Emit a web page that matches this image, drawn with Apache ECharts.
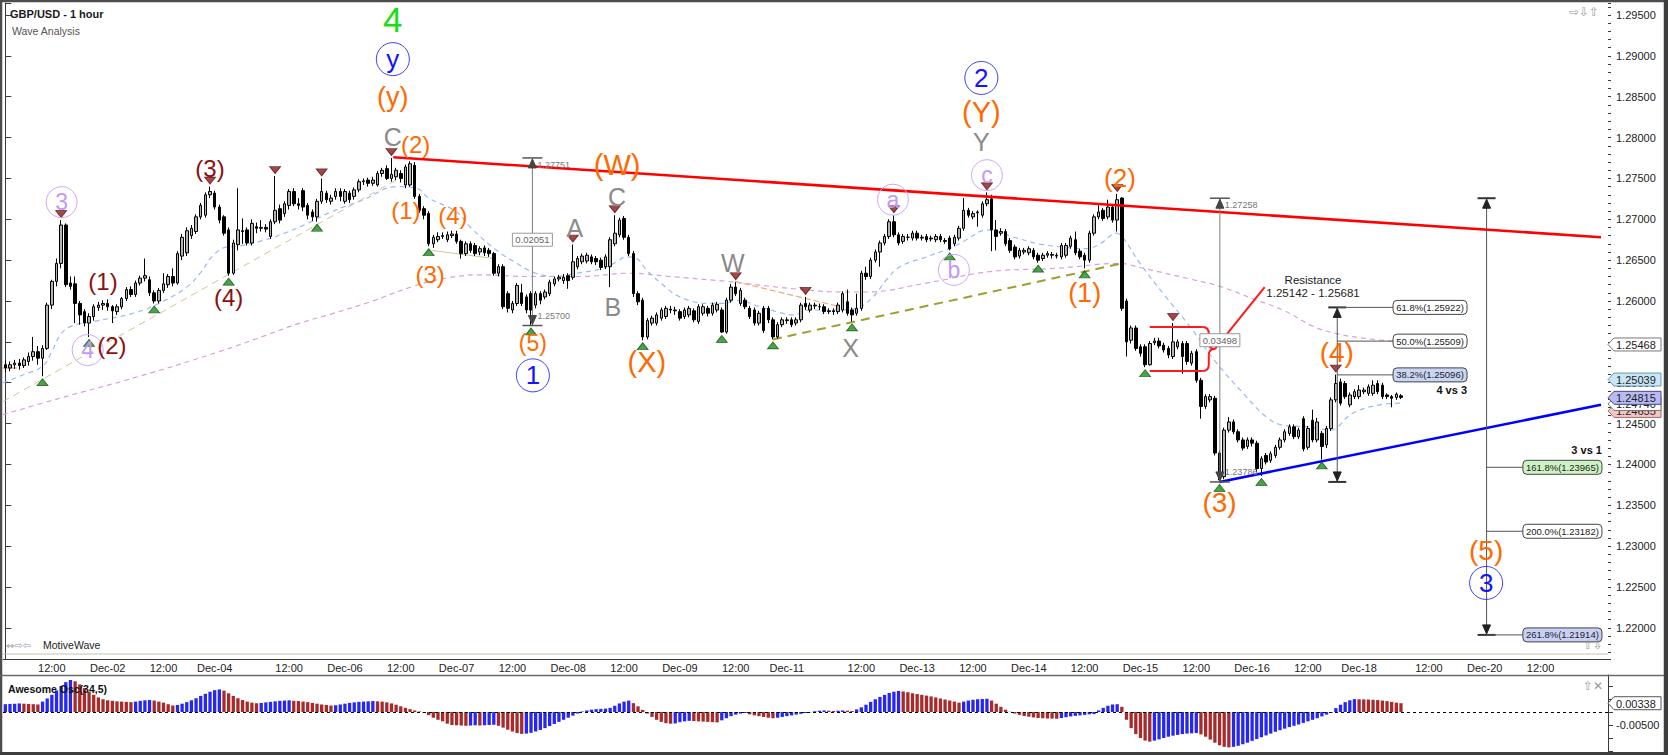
<!DOCTYPE html>
<html><head><meta charset="utf-8">
<script src="https://cdn.jsdelivr.net/npm/echarts@6/dist/echarts.min.js"></script>
<style>html,body{margin:0;padding:0;background:#fff}#c{width:1668px;height:755px}</style>
</head><body><div id="c"></div>
<script>
// ---------- DATA ----------
const N_SLOTS = 345; // hourly slots on the time axis (incl. future space)
const timeLabels = {10:'12:00',22:'Dec-02',34:'12:00',45:'Dec-04',61:'12:00',73:'Dec-06',85:'12:00',97:'Dec-07',109:'12:00',121:'Dec-08',133:'12:00',145:'Dec-09',157:'12:00',168:'Dec-11',184:'12:00',196:'Dec-13',208:'12:00',220:'Dec-14',232:'12:00',244:'Dec-15',256:'12:00',268:'Dec-16',280:'12:00',291:'Dec-18',306:'12:00',318:'Dec-20',330:'12:00',342:' '};

// candles: [open, close, low, high]
const candles = [
[1.2522,1.2518,1.2513,1.2527],[1.2518,1.2522,1.2514,1.2526],[1.2522,1.2524,1.2517,1.2528],[1.2524,1.2521,1.2516,1.2529],[1.2521,1.2528,1.2518,1.2531],
[1.2526,1.2532,1.2521,1.2537],[1.2532,1.2538,1.2527,1.2556],[1.2538,1.2530,1.2522,1.2545],[1.2530,1.2542,1.2508,1.2546],[1.2542,1.2595,1.2540,1.2598],
[1.2595,1.2624,1.2590,1.2626],[1.2624,1.2646,1.2618,1.2652],[1.2646,1.2693,1.2640,1.2699],[1.2693,1.2620,1.2617,1.2695],[1.2622,1.2618,1.2614,1.2630],
[1.2621,1.2597,1.2573,1.2630],[1.2597,1.2583,1.2571,1.2600],[1.2587,1.2573,1.2569,1.2590],[1.2573,1.2581,1.2556,1.2585],[1.2581,1.2593,1.2576,1.2596],
[1.2592,1.2595,1.2588,1.2599],[1.2595,1.2597,1.2589,1.2601],[1.2597,1.2593,1.2588,1.2602],[1.2593,1.2588,1.2573,1.2595],[1.2587,1.2593,1.2583,1.2596],
[1.2593,1.2603,1.2590,1.2605],[1.2603,1.2614,1.2600,1.2617],[1.2614,1.2608,1.2605,1.2618],[1.2608,1.2622,1.2605,1.2625],[1.2622,1.2628,1.2619,1.2631],
[1.2628,1.2631,1.2624,1.2652],[1.2626,1.2610,1.2606,1.2630],[1.2610,1.2600,1.2597,1.2613],[1.2600,1.2613,1.2597,1.2616],[1.2613,1.2621,1.2610,1.2634],
[1.2620,1.2630,1.2616,1.2633],[1.2630,1.2622,1.2618,1.2640],[1.2622,1.2658,1.2620,1.2661],[1.2655,1.2678,1.2650,1.2682],[1.2659,1.2686,1.2655,1.2690],
[1.2680,1.2689,1.2676,1.2693],[1.2685,1.2703,1.2682,1.2706],[1.2703,1.2717,1.2700,1.2720],[1.2705,1.2730,1.2702,1.2733],[1.2730,1.2734,1.2726,1.2740],
[1.2732,1.2715,1.2712,1.2735],[1.2715,1.2699,1.2695,1.2718],[1.2703,1.2683,1.2680,1.2705],[1.2687,1.2634,1.2631,1.2690],[1.2634,1.2671,1.2632,1.2675],
[1.2669,1.2687,1.2662,1.2738],[1.2686,1.2685,1.2670,1.2701],[1.2687,1.2671,1.2668,1.2690],[1.2671,1.2695,1.2668,1.2700],[1.2691,1.2689,1.2683,1.2696],
[1.2689,1.2690,1.2685,1.2699],[1.2690,1.2688,1.2684,1.2694],[1.2679,1.2697,1.2676,1.2700],[1.2697,1.2711,1.2694,1.2753],[1.2713,1.2699,1.2695,1.2718],
[1.2707,1.2719,1.2703,1.2722],[1.2717,1.2734,1.2712,1.2737],[1.2734,1.2719,1.2716,1.2738],[1.2719,1.2717,1.2712,1.2726],[1.2735,1.2715,1.2710,1.2738],
[1.2717,1.2705,1.2700,1.2720],[1.2709,1.2703,1.2698,1.2712],[1.2703,1.2722,1.2697,1.2725],[1.2722,1.2734,1.2719,1.2750],[1.2732,1.2724,1.2720,1.2735],
[1.2722,1.2726,1.2718,1.2730],[1.2728,1.2734,1.2724,1.2738],[1.2734,1.2728,1.2722,1.2738],[1.2722,1.2734,1.2719,1.2737],[1.2732,1.2724,1.2720,1.2735],
[1.2728,1.2736,1.2724,1.2739],[1.2736,1.2746,1.2733,1.2749],[1.2746,1.2747,1.2742,1.2750],[1.2748,1.2744,1.2740,1.2751],[1.2744,1.2748,1.2741,1.2752],
[1.2742,1.2756,1.2740,1.2759],[1.2756,1.2760,1.2752,1.2763],[1.2762,1.2750,1.2748,1.2766],[1.2750,1.2755,1.2746,1.2775],[1.2752,1.2760,1.2748,1.2763],
[1.2756,1.2750,1.2745,1.2760],[1.2742,1.2764,1.2738,1.2767],[1.2742,1.2768,1.2740,1.2771],[1.2766,1.2728,1.2725,1.2770],[1.2728,1.2711,1.2708,1.2731],
[1.2713,1.2705,1.2700,1.2716],[1.2707,1.2670,1.2667,1.2710],[1.2670,1.2678,1.2665,1.2681],[1.2675,1.2679,1.2672,1.2684],[1.2679,1.2680,1.2676,1.2684],
[1.2675,1.2681,1.2672,1.2685],[1.2680,1.2682,1.2677,1.2686],[1.2682,1.2673,1.2670,1.2686],[1.2673,1.2658,1.2652,1.2675],[1.2658,1.2670,1.2655,1.2673],
[1.2670,1.2662,1.2659,1.2673],[1.2668,1.2658,1.2655,1.2671],[1.2660,1.2664,1.2656,1.2667],[1.2665,1.2659,1.2655,1.2668],[1.2662,1.2658,1.2654,1.2665],
[1.2658,1.2634,1.2631,1.2660],[1.2634,1.2642,1.2630,1.2645],[1.2642,1.2593,1.2590,1.2645],[1.2609,1.2591,1.2586,1.2612],[1.2589,1.2597,1.2585,1.2600],
[1.2597,1.2619,1.2594,1.2622],[1.2610,1.2597,1.2594,1.2621],[1.2605,1.2589,1.2585,1.2608],[1.2609,1.2589,1.2570,1.2612],[1.2595,1.2609,1.2591,1.2612],
[1.2609,1.2601,1.2596,1.2612],[1.2605,1.2611,1.2602,1.2614],[1.2609,1.2623,1.2606,1.2626],[1.2621,1.2627,1.2618,1.2630],[1.2627,1.2629,1.2624,1.2632],
[1.2625,1.2629,1.2621,1.2633],[1.2631,1.2625,1.2615,1.2634],[1.2629,1.2648,1.2626,1.2669],[1.2642,1.2652,1.2639,1.2655],[1.2648,1.2655,1.2645,1.2658],
[1.2649,1.2656,1.2646,1.2659],[1.2654,1.2648,1.2645,1.2657],[1.2652,1.2648,1.2644,1.2655],[1.2650,1.2641,1.2638,1.2653],[1.2642,1.2654,1.2639,1.2657],
[1.2642,1.2675,1.2617,1.2678],[1.2670,1.2683,1.2667,1.2705],[1.2681,1.2699,1.2678,1.2702],[1.2701,1.2678,1.2675,1.2704],[1.2678,1.2658,1.2655,1.2681],
[1.2658,1.2609,1.2605,1.2661],[1.2609,1.2599,1.2595,1.2612],[1.2601,1.2556,1.2552,1.2604],[1.2556,1.2576,1.2553,1.2579],[1.2573,1.2579,1.2570,1.2582],
[1.2573,1.2583,1.2570,1.2586],[1.2579,1.2589,1.2576,1.2592],[1.2581,1.2591,1.2578,1.2594],[1.2590,1.2589,1.2585,1.2594],[1.2588,1.2589,1.2583,1.2593],
[1.2587,1.2579,1.2576,1.2590],[1.2581,1.2589,1.2578,1.2592],[1.2583,1.2591,1.2580,1.2594],[1.2588,1.2577,1.2574,1.2591],[1.2575,1.2593,1.2572,1.2596],
[1.2585,1.2593,1.2582,1.2596],[1.2591,1.2585,1.2581,1.2594],[1.2585,1.2595,1.2582,1.2598],[1.2589,1.2596,1.2586,1.2599],[1.2589,1.2562,1.2561,1.2592],
[1.2562,1.2601,1.2560,1.2604],[1.2601,1.2617,1.2598,1.2621],[1.2617,1.2609,1.2606,1.2623],[1.2597,1.2613,1.2594,1.2616],[1.2601,1.2593,1.2590,1.2604],
[1.2591,1.2581,1.2578,1.2594],[1.2589,1.2573,1.2570,1.2592],[1.2573,1.2585,1.2570,1.2588],[1.2591,1.2564,1.2561,1.2594],[1.2591,1.2577,1.2573,1.2594],
[1.2577,1.2556,1.2553,1.2580],[1.2556,1.2571,1.2554,1.2574],[1.2571,1.2577,1.2568,1.2580],[1.2576,1.2577,1.2572,1.2580],[1.2577,1.2571,1.2568,1.2580],
[1.2573,1.2577,1.2570,1.2580],[1.2577,1.2595,1.2574,1.2598],[1.2597,1.2593,1.2589,1.2605],[1.2589,1.2595,1.2586,1.2598],[1.2594,1.2595,1.2590,1.2598],
[1.2593,1.2593,1.2589,1.2597],[1.2593,1.2587,1.2584,1.2596],[1.2587,1.2588,1.2584,1.2591],[1.2588,1.2587,1.2583,1.2591],[1.2587,1.2595,1.2584,1.2598],
[1.2589,1.2609,1.2586,1.2612],[1.2599,1.2585,1.2582,1.2614],[1.2589,1.2583,1.2575,1.2592],[1.2585,1.2591,1.2582,1.2609],[1.2591,1.2634,1.2588,1.2637],
[1.2634,1.2630,1.2626,1.2642],[1.2630,1.2650,1.2627,1.2653],[1.2650,1.2660,1.2647,1.2663],[1.2660,1.2671,1.2642,1.2674],[1.2671,1.2679,1.2668,1.2682],
[1.2679,1.2697,1.2676,1.2700],[1.2697,1.2681,1.2678,1.2705],[1.2681,1.2671,1.2668,1.2684],[1.2673,1.2679,1.2670,1.2682],[1.2678,1.2678,1.2674,1.2682],
[1.2677,1.2683,1.2674,1.2686],[1.2683,1.2677,1.2674,1.2686],[1.2677,1.2678,1.2674,1.2681],[1.2679,1.2675,1.2672,1.2682],[1.2676,1.2677,1.2673,1.2680],
[1.2675,1.2679,1.2672,1.2682],[1.2679,1.2675,1.2672,1.2682],[1.2674,1.2673,1.2670,1.2677],[1.2677,1.2664,1.2662,1.2680],[1.2670,1.2678,1.2667,1.2681],
[1.2677,1.2689,1.2674,1.2692],[1.2689,1.2711,1.2686,1.2726],[1.2711,1.2705,1.2702,1.2714],[1.2703,1.2707,1.2700,1.2710],[1.2708,1.2709,1.2691,1.2711],
[1.2705,1.2719,1.2702,1.2722],[1.2719,1.2724,1.2716,1.2733],[1.2725,1.2687,1.2661,1.2730],[1.2687,1.2679,1.2662,1.2699],[1.2683,1.2685,1.2680,1.2689],
[1.2685,1.2670,1.2667,1.2688],[1.2674,1.2662,1.2659,1.2677],[1.2666,1.2654,1.2651,1.2669],[1.2655,1.2662,1.2652,1.2665],[1.2660,1.2662,1.2657,1.2665],
[1.2659,1.2664,1.2656,1.2667],[1.2662,1.2654,1.2651,1.2665],[1.2656,1.2650,1.2647,1.2659],[1.2652,1.2656,1.2649,1.2659],[1.2656,1.2658,1.2653,1.2661],
[1.2656,1.2657,1.2652,1.2660],[1.2655,1.2656,1.2652,1.2659],[1.2654,1.2668,1.2651,1.2671],[1.2656,1.2668,1.2653,1.2671],[1.2667,1.2677,1.2664,1.2680],
[1.2675,1.2659,1.2656,1.2685],[1.2661,1.2654,1.2651,1.2664],[1.2656,1.2650,1.2640,1.2659],[1.2650,1.2683,1.2647,1.2686],[1.2683,1.2703,1.2680,1.2706],
[1.2703,1.2709,1.2700,1.2717],[1.2711,1.2701,1.2698,1.2714],[1.2703,1.2715,1.2700,1.2724],[1.2715,1.2699,1.2696,1.2718],[1.2699,1.2724,1.2685,1.2731],
[1.2726,1.2591,1.2588,1.2727],[1.2600,1.2550,1.2532,1.2603],[1.2552,1.2567,1.2548,1.2570],[1.2567,1.2542,1.2539,1.2570],[1.2544,1.2536,1.2532,1.2547],
[1.2544,1.2522,1.2519,1.2547],[1.2522,1.2548,1.2521,1.2551],[1.2549,1.2551,1.2546,1.2555],[1.2551,1.2545,1.2542,1.2555],[1.2546,1.2540,1.2537,1.2549],
[1.2542,1.2534,1.2530,1.2545],[1.2532,1.2550,1.2529,1.2573],[1.2544,1.2550,1.2541,1.2553],[1.2548,1.2532,1.2511,1.2551],[1.2548,1.2526,1.2522,1.2551],
[1.2524,1.2536,1.2521,1.2539],[1.2538,1.2503,1.2500,1.2541],[1.2503,1.2471,1.2456,1.2506],[1.2471,1.2483,1.2468,1.2486],[1.2479,1.2483,1.2476,1.2486],
[1.2481,1.2414,1.2411,1.2484],[1.2414,1.2381,1.23786,1.2417],[1.2385,1.2442,1.2382,1.2445],[1.2442,1.2452,1.2439,1.2458],[1.2452,1.2440,1.2437,1.2455],
[1.2440,1.2430,1.2427,1.2443],[1.2430,1.2420,1.2417,1.2433],[1.2422,1.2430,1.2419,1.2433],[1.2430,1.2426,1.2422,1.2433],[1.2426,1.2395,1.2391,1.2429],
[1.2395,1.2407,1.2386,1.2410],[1.2411,1.2403,1.2400,1.2414],[1.2405,1.2413,1.2402,1.2416],[1.2411,1.2421,1.2408,1.2424],[1.2421,1.2430,1.2418,1.2433],
[1.2430,1.2440,1.2427,1.2443],[1.2438,1.2446,1.2435,1.2449],[1.2446,1.2434,1.2431,1.2449],[1.2434,1.2442,1.2431,1.2445],[1.2456,1.2419,1.2416,1.2459],
[1.2421,1.2444,1.2418,1.2447],[1.2454,1.2430,1.2427,1.2467],[1.2430,1.2452,1.2427,1.2457],[1.2438,1.2422,1.2406,1.2441],[1.2424,1.2444,1.2420,1.2447],
[1.2444,1.2479,1.2441,1.2482],[1.2479,1.2499,1.2476,1.2510],[1.2501,1.2475,1.2472,1.2505],[1.2499,1.2483,1.2480,1.2502],[1.2473,1.2485,1.2470,1.2488],
[1.2483,1.2489,1.2480,1.2492],[1.2483,1.2491,1.2480,1.2497],[1.2489,1.2491,1.2486,1.2494],[1.2487,1.2495,1.2484,1.2498],[1.2487,1.2497,1.2484,1.2503],
[1.2499,1.2489,1.2486,1.2503],[1.2497,1.2483,1.2480,1.2500],[1.2485,1.2483,1.2480,1.2487],[1.2483,1.2481,1.2470,1.2485],[1.2482,1.2486,1.2479,1.2488],
[1.2484,1.2482,1.2480,1.2486]
];

// Awesome Oscillator (34,5), in thousandths
const aoThousandths = [
3.0,3.1,3.2,3.3,3.2,3.1,3.0,2.9, 4.0,5.2,6.6,8.3,10.0,11.5,12.3,
11.8,10.6,9.2,7.8,6.6,5.6,4.9,4.5,4.3,4.1,4.0,3.9,3.8, 4.0,4.3,4.5,4.6, 4.4,4.0,3.6,3.0,2.5,
2.7,3.2,3.8,4.5,5.3,6.2,7.0,7.8,8.4,8.7, 8.2,7.2,6.2,5.3,4.6,4.0,3.6,3.4, 3.5,3.7,3.9,4.1,4.3,4.4,4.5,
4.3,4.2,4.0,3.8,3.5,3.2,2.9,2.7,2.5, 2.6,2.9,3.2,3.5,3.7,3.9,4.0,4.1,4.2,
4.1,4.0,3.7,3.3,2.8,2.2,1.6,1.1,0.6,0.2,-0.3,-1.2,-2.2,-3.0,-3.6,-4.5,-5.0,
-5.1,-5.2,-5.3,-5.2,-5.1,-5.2,-5.1,-5.0,-4.9, -5.3,-6.0,-6.8,-7.5,-8.1,-8.4,
-8.3,-8.0,-7.5,-6.9,-6.2,-5.4,-4.6,-3.8,-3.0,-2.2,-1.4,-0.6, 0.2,0.6,0.9,1.1,1.2,1.3,1.6,2.4,3.3,4.0,4.4,
3.4,2.2,0.8,-0.6,-1.9,-3.0,-3.8,-4.3,-4.5, -4.4,-3.9,-3.6,-3.4, -3.5,-3.6,-3.7,-3.8,-3.9,-4.0,
-3.2,-2.4,-1.6,-1.0,-0.6,-0.4, -0.9,-1.3,-1.6,-1.9,-2.2,-2.4, -2.2,-1.9,-1.6,-1.3,-1.0,-0.7,-0.4,-0.1,
0.3,0.5,0.6,0.5,0.4,0.5,0.6,0.5,0.4, 1.0,1.8,2.8,3.9,4.9,5.8,6.6,7.3,7.8,8.1,
7.9,7.6,7.2,6.9,6.6,6.3,6.0,5.6,5.2,4.8,4.4,4.0,3.6, 4.0,4.4,4.7,4.9,5.0,5.1, 4.4,3.2,2.0,0.9,0.1,
-0.6,-1.1,-1.5,-1.8,-2.1,-2.3,-2.4,-2.5,-2.55,-2.6, -2.3,-2.0,-1.7,-1.5,-1.3,-1.1,-0.9,-0.8,
0.6,1.6,2.4,2.9,3.0, 2.0, -3.0,-6.2,-8.5,-10.0,-11.0,-11.4,
-11.0,-10.5,-10.0,-9.5,-9.1,-8.8,-8.5,-8.3,-8.2,-8.1, -8.6,-9.5,-10.6,-11.8,-12.8,-13.4,-13.6,
-13.4,-13.0,-12.4,-11.8,-11.1,-10.4,-9.7,-9.0,-8.3,-7.6,-7.0,-6.4,-5.8,-5.3,-4.8,-4.2,-3.6,-3.0,-2.4,-1.7,-1.0,-0.3,
1.5,2.8,3.8,4.5,4.95, 4.9,4.85,4.8,4.7,4.6,4.4,4.2,3.9,3.6,3.38
];

// moving averages: [slot, price]
const fastMA = [[-0.5,1.2500],[4,1.2510],[8,1.2520],[10,1.2538],[12,1.2560],[14.5,1.2570],[19,1.2575],[27.5,1.2585],[33,1.2597],[39,1.2617],[42,1.2635],[44.7,1.2656],[47.5,1.2666],[50,1.2667],[56,1.2675],[60,1.2683],[65,1.2695],[70,1.2709],[77,1.2724],[84,1.2740],[88.4,1.2738],[91,1.2726],[97,1.2709],[100,1.2690],[105.6,1.2662],[110,1.2646],[114,1.2634],[118.5,1.2630],[122.8,1.2634],[128.5,1.2640],[131.4,1.2648],[133.5,1.2654],[135.7,1.2652],[137.8,1.2638],[140.7,1.2623],[145,1.2605],[151.4,1.2597],[154.3,1.2597],[157.2,1.2601],[162.2,1.2593],[165.8,1.2587],[169.3,1.2583],[173,1.2589],[178.7,1.2589],[183,1.2591],[186.5,1.2605],[189.4,1.2626],[192.3,1.2642],[198,1.2654],[203.7,1.2666],[206.6,1.2675],[211,1.2687],[217.4,1.2677],[223,1.2669],[227.4,1.2666],[232.4,1.2664],[235.3,1.2670],[238.9,1.2683],[240.3,1.2677],[243.9,1.2646],[248.9,1.2609],[254.6,1.2569],[260.4,1.2524],[266.1,1.2487],[271.1,1.2458],[274.7,1.2448],[280.4,1.2446],[284.7,1.2442],[289.7,1.2463],[295.5,1.2473],[300,1.2475]];
const slowMA = [[-0.5,1.2461],[11.7,1.2481],[28.9,1.2508],[45.4,1.2537],[56,1.2558],[63.3,1.2573],[70,1.2584],[78.4,1.2599],[87.7,1.2618],[94.8,1.2628],[102,1.2632],[112.7,1.2630],[123.5,1.2630],[134.2,1.2634],[142.8,1.2630],[155,1.2624],[169.4,1.2615],[180.8,1.2611],[185,1.2611],[198,1.2622],[211.6,1.2636],[226,1.2640],[239.6,1.2646],[243.9,1.2641],[254.6,1.2627],[261,1.2618],[269,1.2601],[275,1.2588],[281.1,1.2569],[286.2,1.2560],[292.6,1.2554],[300,1.2550]];

// drawn trend lines [slot, price]
const lightTrend = [[-0.5,1.2477],[84,1.2748]];
const shortTrend = [[91.6,1.2662],[105,1.2652]];
const oliveTrend = [[165,1.2553],[240,1.2646]];
const orangeTrend = [[156.8,1.2624],[179.4,1.2593]];
const orangeStub = [[-0.5,1.2518],[2.5,1.2518]];
const resistanceTrend = [[83.4,1.2776],[343,1.2678]];
const supportTrend = [[261,1.23786],[343,1.2473]];

// swing markers (candle index)
const swingLows = [8,18,32,48,67,91,113,137,154,165,182,203,222,232,245,261,270,283];
const swingHighs = [12,44,58,68,83,122,131,157,172,191,211,239,251,286];

// wave labels: [slot, price, text, kind, size]
const waveLabels = [
 [83.3,1.2944,'4','green',35],[83.3,1.2896,'y','blueRing',26],[83.3,1.2850,'(y)','orange',27],[83.3,1.2801,'C','gray',25],
 [88.2,1.2792,'(2)','orange',24],[86.1,1.2711,'(1)','orange',24],[96.2,1.2705,'(4)','orange',24],[91.3,1.2632,'(3)','orange',24],
 [131.5,1.2766,'(W)','orange',29],[122.4,1.2689,'A','gray',25],[131.5,1.2727,'C','gray',25],[130.6,1.2593,'B','gray',25],
 [113.4,1.2549,'(5)','orange',23],[113.4,1.2509,'1','blueRing',26],[137.9,1.2525,'(X)','orange',29],
 [156.4,1.2647,'W','gray',25],[181.7,1.2542,'X','gray',25],
 [190.8,1.2724,'a','purpleRing',23],[203.9,1.2638,'b','purpleRing',23],[211,1.2754,'c','purpleRing',23],
 [209.8,1.2795,'Y','gray',25],[209.8,1.2831,'(Y)','orange',29],[209.8,1.2873,'2','blueRing',26],
 [239.6,1.2751,'(2)','orange',26],[232,1.2610,'(1)','orange',27],[261,1.2354,'(3)','orange',28],
 [286.2,1.2537,'(4)','orange',28],[318.3,1.2295,'(5)','orange',28],[318.3,1.2255,'3','blueRing',26],
 [12.1,1.2721,'3','purpleRing',23],[17.7,1.2540,'4','purpleRing',23],
 [21,1.2624,'(1)','darkred',24],[22.9,1.2546,'(2)','darkred',24],[44,1.2762,'(3)','darkred',24],[48,1.2604,'(4)','darkred',24]
];

// measuring tools
const measures = [
 {slot:113.3, top:1.27751, bottom:1.25700, boxAt:1.2675, box:'0.02051'},
 {slot:261.07, top:1.27258, bottom:1.23786, boxAt:1.2552, box:'0.03498'}
];
const fibTools = [
 {slot:286.3, top:1.25922, bottom:1.23786, boxFrom:298.3, boxTo:314.2, note:'4 vs 3', noteAt:1.2491,
  levels:[[1.25922,'61.8%(1.25922)','#ffffff'],[1.25509,'50.0%(1.25509)','#ffffff'],[1.25096,'38.2%(1.25096)','#c9d5f5']]},
 {slot:318.4, top:1.27258, bottom:1.21914, boxFrom:326.2, boxTo:343.2, note:'3 vs 1', noteAt:1.2418,
  levels:[[1.23965,'161.8%(1.23965)','#cdf3c4'],[1.23182,'200.0%(1.23182)','#ffffff'],[1.21914,'261.8%(1.21914)','#c9d0f5']]}
];
const resistanceZone = {from:246.0, to:257.4, low:1.25142, high:1.25681, pointerTo:[270.7,1.2617], title:'Resistance', range:'1.25142 - 1.25681', textAt:[281.1,1.2626,1.2610]};
const priceTags = [[1.24655,'#f5c5c5','#a86a6a'],[1.24740,'#ffffff','#777'],[1.25468,'#ffffff','#777'],[1.25039,'#c8e6f5','#6a9aaa'],[1.24815,'#b9b9f4','#4a4a80']];
const aoTag = 3.38;

const Y_MIN = 1.21619, Y_MAX = 1.29647;
const AO_MIN = -15.38, AO_MAX = 14.23;

// ---------- CHART ----------
const FONT = "'Liberation Sans', Arial, sans-serif";
const chart = echarts.init(document.getElementById('c'), null, {renderer:'svg', width:1668, height:755});
const cats = Array.from({length:N_SLOTS}, (_, i) => String(i));
const hasLabel = i => timeLabels[i] !== undefined;
const isMajor = v => Math.abs(v*200 - Math.round(v*200)) < 1e-6;

const aoBars = aoThousandths.map((v, i) => ({
  value: v,
  itemStyle: {color: (i === 0 || v > aoThousandths[i-1]) ? '#2727f2' : '#a82a2a'}
}));

function lineSeries(data, color, width, dash, smooth) {
  return {type:'line', xAxisIndex:1, yAxisIndex:0, data, symbol:'none', smooth: smooth || false, silent:true,
    lineStyle:{color, width, type: dash || 'solid'}, z:3};
}

const option = {
  animation:false,
  backgroundColor:'#ffffff',
  grid:[{left:3, top:3, width:1605, height:656},{left:3, top:675, width:1605, height:77}],
  xAxis:[
    {type:'category', gridIndex:0, data:cats, boundaryGap:true,
     axisLine:{lineStyle:{color:'#3a3a3a', width:1}},
     axisTick:{inside:true, length:5, alignWithLabel:true, interval:(i)=>hasLabel(i), lineStyle:{color:'#3a3a3a'}},
     axisLabel:{interval:(i)=>hasLabel(i), formatter:(v)=>timeLabels[+v]||'', color:'#222', fontSize:11, fontFamily:FONT, margin:3},
     splitLine:{show:false}},
    {type:'value', gridIndex:0, min:-0.5, max:N_SLOTS-0.5, show:false},
    {type:'category', gridIndex:1, data:cats, show:false}
  ],
  yAxis:[
    {type:'value', gridIndex:0, position:'right', min:Y_MIN, max:Y_MAX, splitNumber:16,
     axisLine:{show:true, lineStyle:{color:'#3a3a3a'}},
     axisTick:{show:true, length:6, lineStyle:{color:'#3a3a3a'}},
     axisLabel:{formatter:(v)=> isMajor(v) ? v.toFixed(5) : '', color:'#222', fontSize:11, fontFamily:FONT, margin:8},
     splitLine:{show:false}},
    {type:'value', gridIndex:0, position:'right', min:Y_MIN, max:Y_MAX, splitNumber:80,
     axisLine:{show:false}, axisTick:{show:true, length:3, lineStyle:{color:'#3a3a3a'}},
     axisLabel:{show:false}, splitLine:{show:false}},
    {type:'value', gridIndex:1, position:'right', min:AO_MIN, max:AO_MAX, splitNumber:6,
     axisLine:{show:true, lineStyle:{color:'#3a3a3a'}},
     axisTick:{show:true, length:5, lineStyle:{color:'#3a3a3a'}},
     axisLabel:{formatter:(v)=> Math.abs(v+5) < 1e-6 ? (v/1000).toFixed(5) : '', color:'#222', fontSize:11, fontFamily:FONT, margin:8},
     splitLine:{show:false}}
  ],
  series:[
    lineSeries(slowMA, '#d8a2da', 1.2, [5,4], 0.4),
    lineSeries(fastMA, '#9bbaf2', 1.2, [5,4], 0.4),
    lineSeries(lightTrend, '#cdc894', 1, [7,5]),
    lineSeries(shortTrend, '#cdc894', 1),
    lineSeries(oliveTrend, '#a09e2e', 2, [9,6]),
    lineSeries(orangeTrend, '#f6a77c', 1.2, [6,3]),
    lineSeries(orangeStub, '#f08a4a', 1),
    {type:'candlestick', xAxisIndex:0, yAxisIndex:0, data:candles, barWidth:3, silent:true, z:4,
     itemStyle:{color:'#b3b3b3', color0:'#000000', borderColor:'#000000', borderColor0:'#000000', borderWidth:1}},
    Object.assign(lineSeries(resistanceTrend, '#ff0000', 2.6), {z:6}),
    Object.assign(lineSeries(supportTrend, '#0000ff', 2.6), {z:6}),
    {type:'scatter', xAxisIndex:0, yAxisIndex:0, silent:true, z:7,
     data: swingLows.map(i => [i, candles[i][2]]), symbol:'triangle', symbolSize:[11,7], symbolOffset:[0,6],
     itemStyle:{color:'#1c8c1c', borderColor:'#0b4d0b', borderWidth:0.8}},
    {type:'scatter', xAxisIndex:0, yAxisIndex:0, silent:true, z:7,
     data: swingHighs.map(i => [i, candles[i][3]]), symbol:'triangle', symbolRotate:180, symbolSize:[11,7], symbolOffset:[0,-6],
     itemStyle:{color:'#8c1a1a', borderColor:'#4d0b0b', borderWidth:0.8}},
    {type:'bar', xAxisIndex:2, yAxisIndex:2, data:aoBars, barWidth:3.3, silent:true,
     markLine:{silent:true, symbol:'none', label:{show:false}, lineStyle:{color:'#000', type:[3,3], width:1}, data:[{yAxis:0}]}}
  ]
};
chart.setOption(option);

// ---------- ANNOTATIONS (positioned through the chart's own scales) ----------
function buildGraphics() {
  const X = k => chart.convertToPixel({xAxisIndex:1}, k);
  const Y = p => chart.convertToPixel({yAxisIndex:0}, p);
  const YO = v => chart.convertToPixel({yAxisIndex:2}, v);
  const g = [];
  const T = (x, y, text, size, fill, align, weight, z, family) => g.push({type:'text', z: z || 30, silent:true,
    style:{x, y, text, fill, font:(weight||'normal')+' '+size+'px '+(family||FONT), align: align||'center', verticalAlign:'middle', textAlign: align||'center', textVerticalAlign:'middle'}});
  const L = (x1, y1, x2, y2, stroke, w, z) => g.push({type:'line', z: z || 25, silent:true, shape:{x1,y1,x2,y2}, style:{stroke, lineWidth: w || 1}});
  const R = (x, y, w, h, fill, stroke, r, z) => g.push({type:'rect', z: z || 28, silent:true, shape:{x, y, width:w, height:h, r: r || 0}, style:{fill, stroke, lineWidth:1}});
  const P = (pts, fill, stroke, z) => g.push({type:'polygon', z: z || 26, silent:true, shape:{points:pts}, style:{fill, stroke: stroke || fill, lineWidth:1}});
  const C = (cx, cy, r, stroke, z) => g.push({type:'circle', z: z || 29, silent:true, shape:{cx, cy, r}, style:{fill:'rgba(0,0,0,0)', stroke, lineWidth:1}});
  const Q = (x1,y1,cx,cy,x2,y2,stroke,w) => g.push({type:'bezierCurve', z:27, silent:true, shape:{x1,y1,x2,y2,cpx1:cx,cpy1:cy}, style:{stroke, lineWidth:w, fill:null}});

  // frame
  L(0, 1, 1668, 1, '#4d4d4d', 2.5, 50);
  L(1, 0, 1, 755, '#4d4d4d', 2.5, 50);
  L(1666, 0, 1666, 755, '#3d3d3d', 4.5, 50);
  L(0, 753.5, 1668, 753.5, '#3d3d3d', 3, 50);
  L(3, 654, 1608, 654, '#c2c2b2', 1, 20);
  L(0, 675.5, 1664, 675.5, '#6a6a6a', 1.5, 50);

  // titles & icons
  T(10, 14, 'GBP/USD - 1 hour', 11, '#1a1a1a', 'left', 'bold');
  T(12, 31, 'Wave Analysis', 10.5, '#555', 'left');
  T(1584, 12, '⇨⇩⇧', 12, '#9a9a9a', 'center', 'normal', 30, "'DejaVu Sans', sans-serif");
  T(1593, 645, '⇧⇩', 12, '#9a9a9a', 'center', 'normal', 30, "'DejaVu Sans', sans-serif");
  T(1593, 686, '⇧✕', 12, '#9a9a9a', 'center', 'normal', 30, "'DejaVu Sans', sans-serif");
  T(6, 645, '⇔⇨⇦', 10, '#9a9a9a', 'left', 'normal', 30, "'DejaVu Sans', sans-serif");
  T(43, 645, 'MotiveWave', 10.5, '#222', 'left');
  T(8, 689, 'Awesome Osc(34,5)', 10.5, '#111', 'left', 'bold', 31);

  // wave labels
  const styles = {green:'#18de18', orange:'#ff6a00', gray:'#8a8a8a', darkred:'#8b1010', blueRing:'#1414ff', purpleRing:'#c29af4'};
  waveLabels.forEach(([k, p, text, kind, size]) => {
    const x = X(k), y = Y(p);
    if (kind === 'blueRing') C(x, y, 16.5, '#3d3dff');
    if (kind === 'purpleRing') C(x, y, 15.5, '#cfa9f7');
    T(x, y + (kind.indexOf('Ring') >= 0 ? 0 : 0), text, size, styles[kind]);
  });

  // measuring tools
  measures.forEach(m => {
    const x = X(m.slot), yt = Y(m.top), yb = Y(m.bottom), yc = Y(m.boxAt);
    L(x, yt, x, yb, '#7d7d7d', 1);
    L(x-10, yt, x+10, yt, '#555', 1.5); L(x-10, yb, x+10, yb, '#555', 1.5);
    P([[x, yt+1],[x-4, yt+10],[x+4, yt+10]], '#444');
    P([[x, yb-1],[x-4, yb-10],[x+4, yb-10]], '#444');
    R(x-20, yc-6.5, 40, 13, '#ffffff', '#9a9a9a', 0, 28);
    T(x, yc, m.box, 9.5, '#666', 'center', 'normal', 29);
    T(x+5, yt+7, m.top.toFixed(5), 9, '#777', 'left');
    T(x+5, yb-10, m.bottom.toFixed(5), 9, '#777', 'left');
  });

  // resistance zone bracket
  {
    const z = resistanceZone;
    const xl = X(z.from), xr = X(z.to), yt = Y(z.high), yb = Y(z.low), ym = (yt+yb)/2;
    const red = '#ff1a1a';
    L(xl, yt, xr, yt, red, 2); L(xl, yb, xr, yb, red, 2);
    Q(xr, yt, xr+6, yt, xr+6, yt+7, red, 2);
    L(xr+6, yt+7, xr+6, ym-6, red, 2);
    Q(xr+6, ym-6, xr+6, ym, xr+12, ym, red, 2);
    Q(xr+12, ym, xr+6, ym, xr+6, ym+6, red, 2);
    L(xr+6, ym+6, xr+6, yb-7, red, 2);
    Q(xr+6, yb-7, xr+6, yb, xr, yb, red, 2);
    L(xr+12, ym, X(z.pointerTo[0]), Y(z.pointerTo[1]), red, 2);
    T(X(z.textAt[0]), Y(z.textAt[1]), z.title, 11.5, '#222');
    T(X(z.textAt[0]), Y(z.textAt[2]), z.range, 11.5, '#222');
  }

  // fibonacci tools
  fibTools.forEach(f => {
    const x = X(f.slot), yt = Y(f.top), yb = Y(f.bottom), bx = X(f.boxFrom), bw = X(f.boxTo) - bx;
    L(x, yt, x, yb, '#555', 1);
    L(x-9, yt, x+9, yt, '#333', 2); L(x-9, yb, x+9, yb, '#333', 2);
    P([[x, yt+1],[x-4, yt+10],[x+4, yt+10]], '#222');
    P([[x, yb-1],[x-4, yb-10],[x+4, yb-10]], '#222');
    f.levels.forEach(([p, label, fill]) => {
      const y = Y(p);
      L(x, y, bx, y, '#555', 1);
      R(bx, y-7, bw, 14, fill, '#444', 4, 28);
      T(bx + bw/2, y, label, 9.5, '#222', 'center', 'normal', 29);
    });
    T(X(f.boxTo), Y(f.noteAt), f.note, 11, '#111', 'right', 'bold');
  });

  // price tags on right axis
  const tag = (y, text, fill, stroke, z) => {
    P([[1608, y],[1614, y-6.5],[1661, y-6.5],[1661, y+6.5],[1614, y+6.5]], fill, stroke, z);
    T(1616, y+0.5, text, 11, '#222', 'left', 'normal', z+1);
  };
  priceTags.forEach(([p, fill, stroke], i) => tag(Y(p), p.toFixed(5), fill, stroke, 40 + i*2));
  tag(YO(aoTag), (aoTag/1000).toFixed(5), '#ffffff', '#555', 60);

  return g;
}
chart.setOption({graphic: buildGraphics()});
</script>
</body></html>
